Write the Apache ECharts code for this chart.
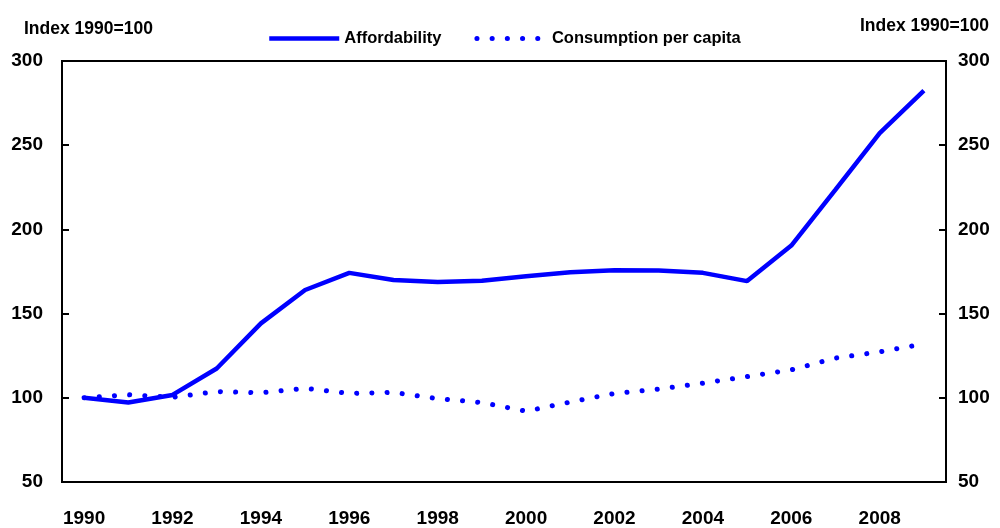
<!DOCTYPE html>
<html>
<head>
<meta charset="utf-8">
<script src="https://cdn.jsdelivr.net/npm/echarts@6/dist/echarts.min.js"></script>
<style>
  html, body { margin: 0; padding: 0; background: #fff; }
  #chart { width: 1000px; height: 528px; }
</style>
</head>
<body>
<div id="chart"></div>
<script>
const years = ['1990', '1991', '1992', '1993', '1994', '1995', '1996', '1997', '1998', '1999',
  '2000', '2001', '2002', '2003', '2004', '2005', '2006', '2007', '2008', '2009'];
const affordability = [100, 97.2, 101.7, 117.4, 144.2, 164, 174.2, 170, 168.7, 169.5,
  172.2, 174.6, 175.8, 175.6, 174.2, 169.3, 190.4, 223.6, 257.2, 282.4];
const consumption = [100, 101.8, 100.3, 103.7, 103, 105.6, 102.6, 103.2, 99.5, 97.2,
  92, 97.5, 102.6, 105.2, 108.7, 112.6, 116.6, 123.6, 127.3, 132];

const font = "'Liberation Sans', Arial, sans-serif";
const axisText = { color: '#000', fontFamily: font, fontSize: 19, fontWeight: 'bold' };
const blue = '#0000ff';

const chart = echarts.init(document.getElementById('chart'));
chart.setOption({
  animation: false,
  grid: {
    left: 62, right: 54, top: 61, bottom: 45,
    show: true, borderColor: '#000', borderWidth: 2
  },
  legend: {
    top: 25, left: 262,
    itemWidth: 70, itemHeight: 14, itemGap: 33,
    itemStyle: { opacity: 0 },
    lineStyle: { width: 'inherit' },
    textStyle: { color: '#000', fontFamily: font, fontSize: 16.5, fontWeight: 'bold' },
    data: ['Affordability', 'Consumption per capita']
  },
  graphic: [
    { type: 'text', left: 24, top: 20, style: { text: 'Index 1990=100', fill: '#000', font: 'bold 17.5px ' + font } },
    { type: 'text', left: 860, top: 17, style: { text: 'Index 1990=100', fill: '#000', font: 'bold 17.5px ' + font } }
  ],
  xAxis: {
    type: 'category',
    data: years,
    boundaryGap: true,
    axisLine: { lineStyle: { color: '#000', width: 2 } },
    axisTick: { inside: true, length: 7, interval: 1, lineStyle: { color: '#000', width: 2 } },
    axisLabel: Object.assign({ interval: 1, margin: 27 }, axisText)
  },
  yAxis: [
    {
      type: 'value', min: 50, max: 300, interval: 50, position: 'left',
      splitLine: { show: false },
      axisLine: { show: true, lineStyle: { color: '#000', width: 2 } },
      axisTick: { show: true, inside: true, length: 7, lineStyle: { color: '#000', width: 2 } },
      axisLabel: Object.assign({ margin: 19 }, axisText)
    },
    {
      type: 'value', min: 50, max: 300, interval: 50, position: 'right',
      splitLine: { show: false },
      axisLine: { show: true, lineStyle: { color: '#000', width: 2 } },
      axisTick: { show: true, inside: true, length: 7, lineStyle: { color: '#000', width: 2 } },
      axisLabel: Object.assign({ margin: 12 }, axisText)
    }
  ],
  series: [
    {
      name: 'Affordability',
      type: 'line',
      data: affordability,
      symbol: 'none',
      color: blue,
      lineStyle: { color: blue, width: 4.5 }
    },
    {
      name: 'Consumption per capita',
      type: 'line',
      data: consumption,
      symbol: 'none',
      color: blue,
      lineStyle: { color: blue, width: 5, type: [0.1, 15.1], cap: 'round' }
    }
  ]
});
</script>
</body>
</html>
